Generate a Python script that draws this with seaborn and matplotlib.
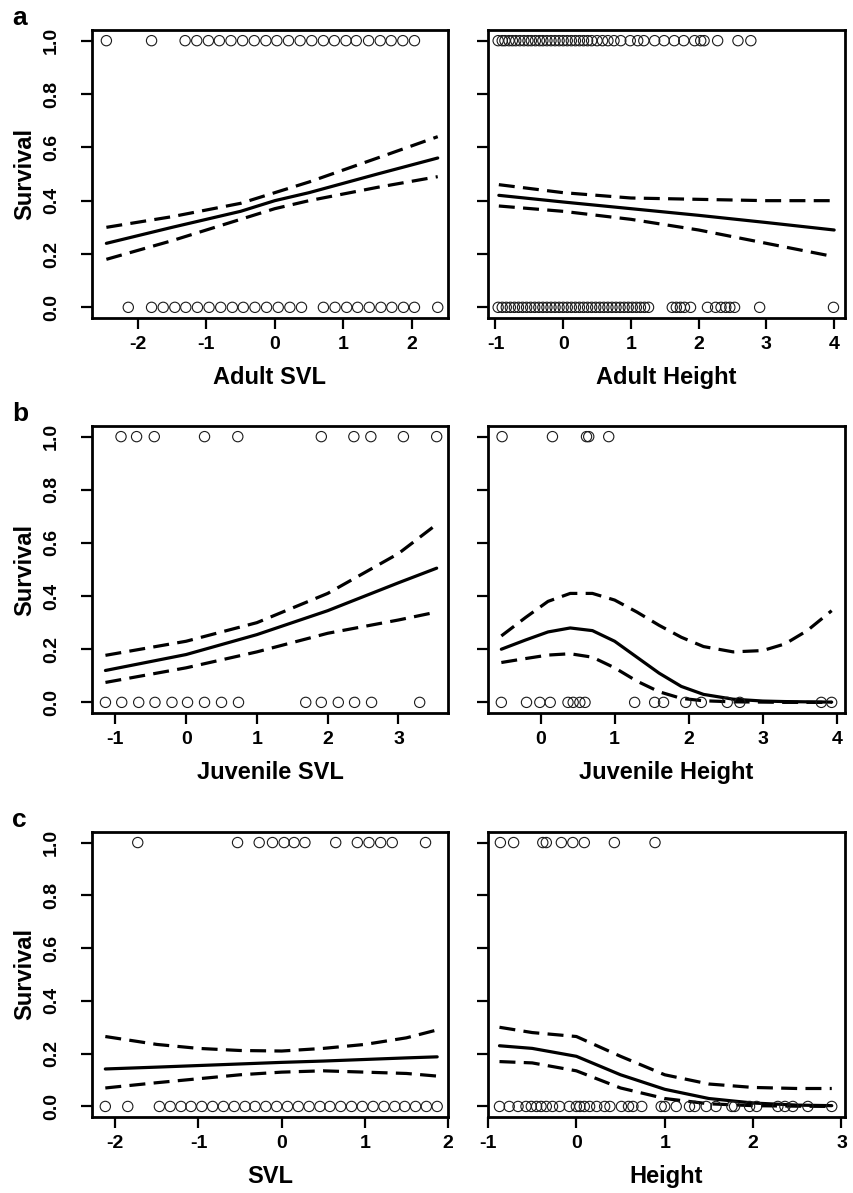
import numpy as np
import pandas as pd
import matplotlib
matplotlib.use("Agg")
import matplotlib.pyplot as plt
import seaborn as sns

# ---------------------------------------------------------------------
# data (x positions of survivors / non-survivors,
# plus fitted curve and confidence band)
# ---------------------------------------------------------------------
# a: adults, SVL
a_svl_alive = [-2.46, -1.80, -1.31, -1.14, -0.97, -0.81, -0.64, -0.47, -0.30, -0.13,
               0.03, 0.20, 0.37, 0.54, 0.71, 0.87, 1.04, 1.19, 1.37, 1.54, 1.70, 1.87, 2.04]
a_svl_dead = [-2.14, -1.80, -1.63, -1.46, -1.30, -1.13, -0.96, -0.79, -0.62, -0.46, -0.29,
              -0.12, 0.05, 0.22, 0.39, 0.71, 0.88, 1.05, 1.21, 1.38, 1.55, 1.71, 1.88,
              2.04, 2.38]
a_svl_cx = [-2.46, -1.5, -0.5, 0.0, 0.5, 1.5, 2.38]
a_svl_fit = [0.24, 0.30, 0.36, 0.40, 0.43, 0.50, 0.56]
a_svl_hi = [0.30, 0.34, 0.39, 0.43, 0.47, 0.56, 0.64]
a_svl_lo = [0.18, 0.25, 0.33, 0.37, 0.40, 0.45, 0.49]

# a: adults, height
a_ht_alive = [-0.96, -0.90, -0.86, -0.80, -0.75, -0.70, -0.64, -0.58, -0.52, -0.47,
              -0.41, -0.35, -0.30, -0.24, -0.18, -0.12, -0.06, 0.00, 0.06, 0.12,
              0.18, 0.24, 0.30, 0.36, 0.42, 0.50, 0.58, 0.66, 0.75, 0.85, 0.99,
              1.10, 1.19, 1.35, 1.49, 1.64, 1.78, 1.94, 2.03, 2.08, 2.28, 2.58, 2.77]
a_ht_dead = [-0.96, -0.90, -0.84, -0.78, -0.72, -0.66, -0.60, -0.54, -0.48, -0.42,
             -0.36, -0.30, -0.24, -0.18, -0.12, -0.06, 0.00, 0.06, 0.12, 0.18,
             0.24, 0.30, 0.36, 0.42, 0.48, 0.54, 0.60, 0.66, 0.72, 0.78, 0.84,
             0.90, 0.96, 1.02, 1.08, 1.14, 1.20, 1.26, 1.61, 1.67, 1.73, 1.79,
             1.88, 2.13, 2.25, 2.33, 2.40, 2.46, 2.53, 2.90, 3.99]
a_ht_cx = [-0.95, 0.0, 1.0, 2.0, 3.0, 4.0]
a_ht_fit = [0.42, 0.395, 0.37, 0.345, 0.318, 0.29]
a_ht_hi = [0.46, 0.43, 0.41, 0.405, 0.40, 0.40]
a_ht_lo = [0.38, 0.36, 0.33, 0.29, 0.24, 0.19]

# b: juveniles, SVL
b_svl_alive = [-0.92, -0.70, -0.45, 0.26, 0.73, 1.91, 2.37, 2.61, 3.07, 3.54]
b_svl_dead = [-1.14, -0.91, -0.67, -0.44, -0.20, 0.02, 0.26, 0.50, 0.74,
              1.69, 1.91, 2.15, 2.38, 2.62, 3.30]
b_svl_cx = [-1.14, 0.0, 1.0, 2.0, 3.0, 3.54]
b_svl_fit = [0.12, 0.18, 0.255, 0.345, 0.45, 0.505]
b_svl_hi = [0.177, 0.23, 0.30, 0.41, 0.56, 0.67]
b_svl_lo = [0.075, 0.13, 0.19, 0.26, 0.31, 0.34]

# b: juveniles, height
b_ht_alive = [-0.52, 0.16, 0.62, 0.65, 0.92]
b_ht_dead = [-0.53, -0.19, -0.01, 0.13, 0.37, 0.44, 0.53, 0.60, 1.27, 1.54, 1.66,
             1.96, 2.17, 2.52, 2.69, 3.79, 3.93]
b_ht_cx = [-0.53, -0.2, 0.1, 0.4, 0.7, 1.0, 1.3, 1.6, 1.9, 2.2, 2.6, 3.0, 3.3, 3.6, 3.93]
b_ht_fit = [0.20, 0.235, 0.265, 0.28, 0.27, 0.23, 0.17, 0.11, 0.06, 0.03, 0.012,
            0.005, 0.003, 0.002, 0.001]
b_ht_hi = [0.25, 0.32, 0.38, 0.41, 0.41, 0.385, 0.34, 0.29, 0.245, 0.21, 0.19,
           0.195, 0.22, 0.27, 0.345]
b_ht_lo = [0.15, 0.165, 0.178, 0.183, 0.17, 0.13, 0.08, 0.04, 0.015, 0.006, 0.002,
           0.001, 0.0, 0.0, 0.0]

# c: all, SVL
c_svl_alive = [-1.73, -0.53, -0.27, -0.11, 0.03, 0.15, 0.28, 0.65, 0.91, 1.05,
               1.19, 1.33, 1.73]
c_svl_dead = [-2.12, -1.85, -1.47, -1.34, -1.21, -1.09, -0.96, -0.83, -0.70, -0.57,
              -0.44, -0.32, -0.19, -0.06, 0.07, 0.20, 0.33, 0.46, 0.58, 0.71,
              0.84, 0.97, 1.10, 1.23, 1.36, 1.48, 1.61, 1.74, 1.87]
c_svl_cx = [-2.12, -1.5, -1.0, -0.5, 0.0, 0.5, 1.0, 1.5, 1.87]
c_svl_fit = [0.142, 0.149, 0.155, 0.161, 0.167, 0.172, 0.178, 0.184, 0.188]
c_svl_hi = [0.265, 0.235, 0.22, 0.212, 0.21, 0.22, 0.235, 0.26, 0.29]
c_svl_lo = [0.07, 0.09, 0.105, 0.12, 0.13, 0.135, 0.13, 0.125, 0.115]

# c: all, height
c_ht_alive = [-0.86, -0.71, -0.38, -0.34, -0.17, -0.04, 0.09, 0.43, 0.89]
c_ht_dead = [-0.87, -0.76, -0.66, -0.57, -0.51, -0.45, -0.40, -0.34, -0.27, -0.19,
             -0.08, 0.00, 0.04, 0.09, 0.15, 0.23, 0.32, 0.38, 0.51, 0.59, 0.64,
             0.74, 0.96, 1.00, 1.13, 1.28, 1.34, 1.47, 1.58, 1.76, 1.79, 1.96,
             2.04, 2.28, 2.36, 2.45, 2.62, 2.89]
c_ht_cx = [-0.87, -0.5, 0.0, 0.5, 1.0, 1.5, 2.0, 2.5, 2.89]
c_ht_fit = [0.23, 0.22, 0.19, 0.12, 0.065, 0.03, 0.013, 0.005, 0.003]
c_ht_hi = [0.30, 0.28, 0.265, 0.19, 0.12, 0.085, 0.072, 0.068, 0.068]
c_ht_lo = [0.17, 0.165, 0.135, 0.07, 0.03, 0.01, 0.003, 0.001, 0.0]

panels = [
    ("Adult SVL", a_svl_alive, a_svl_dead, a_svl_cx, a_svl_fit, a_svl_hi, a_svl_lo,
     (-2.67, 2.53), [-2, -1, 0, 1, 2]),
    ("Adult Height", a_ht_alive, a_ht_dead, a_ht_cx, a_ht_fit, a_ht_hi, a_ht_lo,
     (-1.11, 4.16), [-1, 0, 1, 2, 3, 4]),
    ("Juvenile SVL", b_svl_alive, b_svl_dead, b_svl_cx, b_svl_fit, b_svl_hi, b_svl_lo,
     (-1.33, 3.70), [-1, 0, 1, 2, 3]),
    ("Juvenile Height", b_ht_alive, b_ht_dead, b_ht_cx, b_ht_fit, b_ht_hi, b_ht_lo,
     (-0.71, 4.11), [0, 1, 2, 3, 4]),
    ("SVL", c_svl_alive, c_svl_dead, c_svl_cx, c_svl_fit, c_svl_hi, c_svl_lo,
     (-2.28, 1.98), [-2, -1, 0, 1, 2]),
    ("Height", c_ht_alive, c_ht_dead, c_ht_cx, c_ht_fit, c_ht_hi, c_ht_lo,
     (-1.0, 3.04), [-1, 0, 1, 2, 3]),
]

sns.set_theme(style="ticks")
plt.rcParams['font.family'] = ['Liberation Sans', 'DejaVu Sans']
plt.rcParams['font.weight'] = 'bold'
for key in ('text.color', 'axes.labelcolor', 'xtick.color', 'ytick.color'):
    plt.rcParams[key] = 'black'

W, H = 854, 1193
fig = plt.figure(figsize=(W / 100, H / 100), dpi=100)

col_px = [(92, 448), (488, 845)]
row_px = [(30, 318), (426, 713), (832, 1117)]
letters = ["a", "b", "c"]

for i, (xlab, alive, dead, cx, fit, hi, lo, xlim, xticks) in enumerate(panels):
    r, c = divmod(i, 2)
    x0, x1 = col_px[c]
    y0, y1 = row_px[r]
    ax = fig.add_axes([x0 / W, 1 - y1 / H, (x1 - x0) / W, (y1 - y0) / H])

    pts = pd.DataFrame({
        "x": list(alive) + list(dead),
        "surv": [1.0] * len(alive) + [0.0] * len(dead),
    })
    sns.scatterplot(data=pts, x="x", y="surv", ax=ax, s=55, color="black",
                    legend=False, zorder=3)
    coll = ax.collections[-1]
    coll.set_facecolor("none")
    coll.set_edgecolor("#1a1a1a")
    coll.set_linewidth(0.8)

    sns.lineplot(x=cx, y=fit, ax=ax, color="black", linewidth=2.3, sort=False)
    for band in (hi, lo):
        sns.lineplot(x=cx, y=band, ax=ax, color="black", linewidth=2.3, sort=False,
                     linestyle=(0, (5, 2.6)))

    ax.set_xlim(*xlim)
    ax.set_ylim(-0.04, 1.04)
    ax.set_xticks(xticks)
    ax.set_xticklabels([str(t) for t in xticks], fontsize=14, fontweight="bold")
    ax.set_yticks([0.0, 0.2, 0.4, 0.6, 0.8, 1.0])
    if c == 0:
        ax.set_yticklabels(["0.0", "0.2", "0.4", "0.6", "0.8", "1.0"], rotation=90,
                           va="center", fontsize=14, fontweight="bold")
        ax.set_ylabel("Survival", fontsize=17, fontweight="bold", labelpad=5)
    else:
        ax.set_yticklabels([])
        ax.set_ylabel("")
    ax.set_xlabel(xlab, fontsize=17, fontweight="bold", labelpad=9)
    ax.tick_params(axis="both", direction="out", length=8, width=1.6, color="black")
    ax.tick_params(axis="x", pad=5)
    ax.tick_params(axis="y", pad=15)
    for sp in ax.spines.values():
        sp.set_visible(True)
        sp.set_linewidth(2.0)
        sp.set_color("black")

    if c == 0:
        fig.text(12 / W, 1 - (y0 - 12) / H, letters[r], fontsize=19,
                 fontweight="bold", ha="left", va="center")

fig.savefig("out.png", dpi=100, facecolor="white")
